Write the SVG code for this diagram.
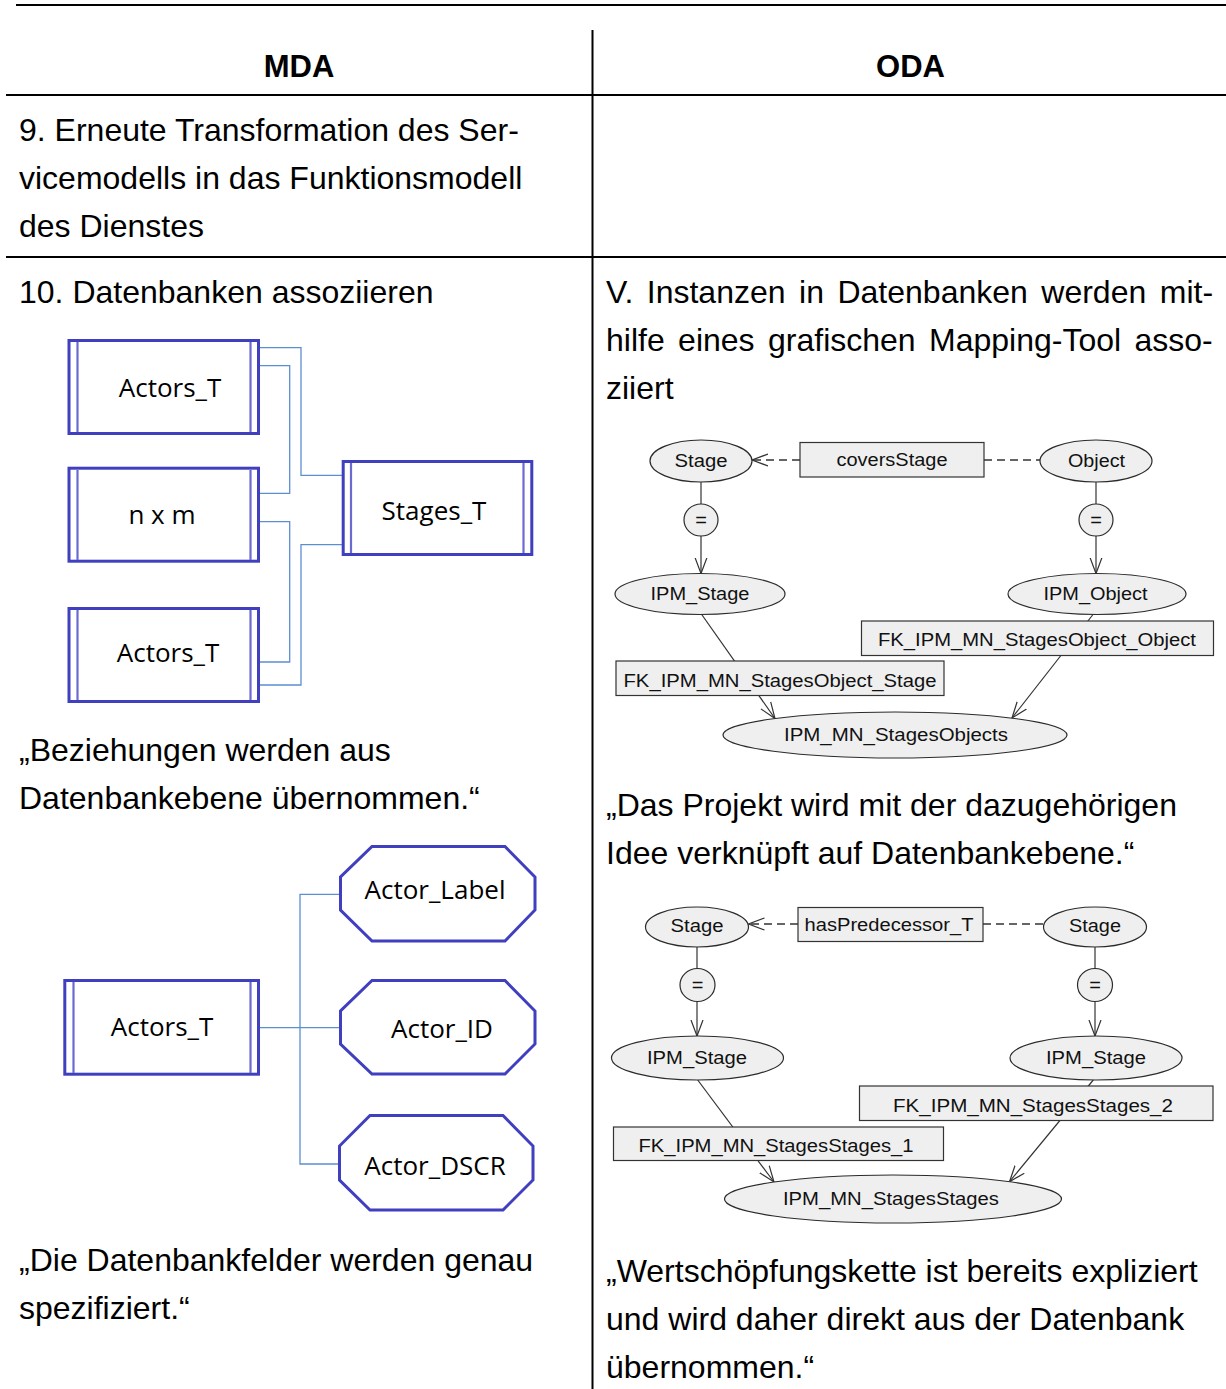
<svg xmlns="http://www.w3.org/2000/svg" width="1226" height="1389" viewBox="0 0 1226 1389">
<style>
.body{font-family:"Liberation Sans",Arial,sans-serif;font-size:32px;fill:#000}
.hdr{font-family:"Liberation Sans",Arial,sans-serif;font-size:31px;font-weight:bold;fill:#000;text-anchor:middle}
.rule{stroke:#000;stroke-width:2;fill:none}
.tbl{fill:#fff;stroke:#3f3fbf;stroke-width:3}
.inner{stroke:#6a6ad2;stroke-width:2.2}
.oct{fill:#fff;stroke:#3f3fbf;stroke-width:3}
.mlbl{font-family:"Open Sans","Noto Sans",sans-serif;font-size:26px;fill:#000;text-anchor:middle}
.mcon{stroke:#5b8fd0;stroke-width:1.3;fill:none}
.el{fill:#efefef;stroke:#2b2b2b;stroke-width:1.2}
.bx{fill:#efefef;stroke:#333;stroke-width:1.2}
.olbl{font-family:"Liberation Sans",Arial,sans-serif;font-size:17.5px;fill:#111;text-anchor:middle}
.eq{font-family:"Liberation Sans",Arial,sans-serif;font-size:20px;fill:#111;text-anchor:middle}
.ocon{stroke:#333;stroke-width:1.2;fill:none}
.dash{stroke:#333;stroke-width:1.3;fill:none;stroke-dasharray:8,5}
</style>
<defs>
<marker id="arr" markerUnits="userSpaceOnUse" markerWidth="20" markerHeight="16" refX="16" refY="7" orient="auto">
<path d="M0,1 L16,7 L0,13" fill="none" stroke="#333" stroke-width="1.2"/>
</marker>
</defs>
<rect width="1226" height="1389" fill="#fff"/>

<g id="table">
<line class="rule" x1="16" y1="5" x2="1226" y2="5"/>
<line class="rule" x1="6" y1="95" x2="1226" y2="95"/>
<line class="rule" x1="6" y1="257" x2="1226" y2="257"/>
<line class="rule" x1="592.5" y1="30" x2="592.5" y2="1389"/>
<text class="hdr" x="299" y="77">MDA</text>
<text class="hdr" x="910.5" y="77">ODA</text>
</g>

<g id="mda-text">
<text class="body" x="19" y="141">9. Erneute Transformation des Ser-</text>
<text class="body" x="19" y="189">vicemodells in das Funktionsmodell</text>
<text class="body" x="19" y="237">des Dienstes</text>
<text class="body" x="19" y="303">10. Datenbanken assoziieren</text>
<text class="body" x="19" y="761">„Beziehungen werden aus</text>
<text class="body" x="19" y="809">Datenbankebene übernommen.“</text>
<text class="body" x="19" y="1271">„Die Datenbankfelder werden genau</text>
<text class="body" x="19" y="1319">spezifiziert.“</text>
</g>

<g id="oda-text">
<text class="body" x="606" y="303" word-spacing="4.6">V. Instanzen in Datenbanken werden mit-</text>
<text class="body" x="606" y="351" word-spacing="4.5">hilfe eines grafischen Mapping-Tool asso-</text>
<text class="body" x="606" y="399">ziiert</text>
<text class="body" x="606" y="816">„Das Projekt wird mit der dazugehörigen</text>
<text class="body" x="606" y="864">Idee verknüpft auf Datenbankebene.“</text>
<text class="body" x="606" y="1282">„Wertschöpfungskette ist bereits expliziert</text>
<text class="body" x="606" y="1330">und wird daher direkt aus der Datenbank</text>
<text class="body" x="606" y="1378">übernommen.“</text>
</g>

<!-- MDA diagram 1 -->
<g id="mda1-connectors">
<polyline class="mcon" points="260,347.7 301,347.7 301,475.3 342,475.3"/>
<polyline class="mcon" points="260,365.7 289.7,365.7 289.7,493.3 260,493.3"/>
<polyline class="mcon" points="260,521.7 289.7,521.7 289.7,662 260,662"/>
<polyline class="mcon" points="342,544.7 301,544.7 301,685 260,685"/>
</g>
<g id="mda1-actors1">
<rect class="tbl" x="69" y="340.5" width="189.5" height="93"/>
<line class="inner" x1="77.5" y1="342" x2="77.5" y2="432"/>
<line class="inner" x1="250.5" y1="342" x2="250.5" y2="432"/>
<text class="mlbl" x="170" y="397">Actors_T</text>
</g>
<g id="mda1-nxm">
<rect class="tbl" x="69" y="468.2" width="189.5" height="93"/>
<line class="inner" x1="77.5" y1="470" x2="77.5" y2="560"/>
<line class="inner" x1="250.5" y1="470" x2="250.5" y2="560"/>
<text class="mlbl" x="162" y="524">n x m</text>
</g>
<g id="mda1-actors2">
<rect class="tbl" x="69" y="608.5" width="189.5" height="93"/>
<line class="inner" x1="77.5" y1="610" x2="77.5" y2="700"/>
<line class="inner" x1="250.5" y1="610" x2="250.5" y2="700"/>
<text class="mlbl" x="168" y="662">Actors_T</text>
</g>
<g id="mda1-stages">
<rect class="tbl" x="343.2" y="461.5" width="188.6" height="93"/>
<line class="inner" x1="351" y1="463" x2="351" y2="553"/>
<line class="inner" x1="523.5" y1="463" x2="523.5" y2="553"/>
<text class="mlbl" x="434" y="520">Stages_T</text>
</g>

<!-- MDA diagram 2 -->
<g id="mda2-connectors">
<line class="mcon" x1="260" y1="1027.7" x2="340" y2="1027.7"/>
<polyline class="mcon" points="340,894.3 300,894.3 300,1164 339,1164"/>
</g>
<g id="mda2-actors">
<rect class="tbl" x="64.8" y="980.5" width="193.7" height="93.7"/>
<line class="inner" x1="73.5" y1="982" x2="73.5" y2="1073"/>
<line class="inner" x1="250.5" y1="982" x2="250.5" y2="1073"/>
<text class="mlbl" x="162" y="1036">Actors_T</text>
</g>
<g id="mda2-label">
<polygon class="oct" points="372,846.5 505,846.5 535,877 535,910 505,941 372,941 340.5,910 340.5,877"/>
<text class="mlbl" x="435" y="899">Actor_Label</text>
</g>
<g id="mda2-id">
<polygon class="oct" points="372,980.5 505,980.5 535,1011 535,1044 505,1074 372,1074 340.5,1044 340.5,1011"/>
<text class="mlbl" x="442" y="1038">Actor_ID</text>
</g>
<g id="mda2-dscr">
<polygon class="oct" points="370,1115.5 503,1115.5 533,1146 533,1180 503,1210 370,1210 339.5,1180 339.5,1146"/>
<text class="mlbl" x="435" y="1175">Actor_DSCR</text>
</g>

<!-- ODA diagram 1 -->
<g id="oda1-connectors">
<line class="dash" x1="800" y1="460" x2="752" y2="460" marker-end="url(#arr)"/>
<line class="dash" x1="984" y1="460" x2="1040" y2="460"/>
<line class="ocon" x1="701" y1="482" x2="701" y2="504"/>
<line class="ocon" x1="701" y1="536" x2="701" y2="573.5" marker-end="url(#arr)"/>
<line class="ocon" x1="1096" y1="482" x2="1096" y2="504"/>
<line class="ocon" x1="1096" y1="536" x2="1096" y2="573.5" marker-end="url(#arr)"/>
<line class="ocon" x1="701.7" y1="614.5" x2="775" y2="718.5" marker-end="url(#arr)"/>
<line class="ocon" x1="1093" y1="614.5" x2="1012" y2="718" marker-end="url(#arr)"/>
</g>
<g id="oda1-stage">
<ellipse class="el" cx="701" cy="461" rx="51" ry="21"/>
<text class="olbl" x="701" y="467" textLength="53" lengthAdjust="spacingAndGlyphs">Stage</text>
</g>
<g id="oda1-covers">
<rect class="bx" x="800" y="442.5" width="184" height="34.5"/>
<text class="olbl" x="892" y="466" textLength="111" lengthAdjust="spacingAndGlyphs">coversStage</text>
</g>
<g id="oda1-object">
<ellipse class="el" cx="1096" cy="461" rx="56" ry="21"/>
<text class="olbl" x="1096.5" y="467" textLength="57" lengthAdjust="spacingAndGlyphs">Object</text>
</g>
<g id="oda1-eq1">
<ellipse class="el" cx="701" cy="520" rx="17" ry="16"/>
<text class="eq" x="701" y="527">=</text>
</g>
<g id="oda1-eq2">
<ellipse class="el" cx="1096" cy="520" rx="17" ry="16"/>
<text class="eq" x="1096" y="527">=</text>
</g>
<g id="oda1-ipmstage">
<ellipse class="el" cx="700" cy="594" rx="85" ry="20.5"/>
<text class="olbl" x="700" y="600" textLength="99" lengthAdjust="spacingAndGlyphs">IPM_Stage</text>
</g>
<g id="oda1-ipmobject">
<ellipse class="el" cx="1097" cy="594" rx="89" ry="20.5"/>
<text class="olbl" x="1095.5" y="600" textLength="104" lengthAdjust="spacingAndGlyphs">IPM_Object</text>
</g>
<g id="oda1-fkobject">
<rect class="bx" x="861.5" y="621" width="352" height="34.5"/>
<text class="olbl" x="1037" y="646" textLength="318" lengthAdjust="spacingAndGlyphs">FK_IPM_MN_StagesObject_Object</text>
</g>
<g id="oda1-fkstage">
<rect class="bx" x="616" y="661" width="328" height="34.5"/>
<text class="olbl" x="780" y="687" textLength="313" lengthAdjust="spacingAndGlyphs">FK_IPM_MN_StagesObject_Stage</text>
</g>
<g id="oda1-mn">
<ellipse class="el" cx="895" cy="735" rx="172" ry="23"/>
<text class="olbl" x="896" y="741" textLength="224" lengthAdjust="spacingAndGlyphs">IPM_MN_StagesObjects</text>
</g>

<!-- ODA diagram 2 -->
<g id="oda2-connectors">
<line class="dash" x1="798" y1="924" x2="748.5" y2="924" marker-end="url(#arr)"/>
<line class="dash" x1="983" y1="924" x2="1043.5" y2="924"/>
<line class="ocon" x1="697" y1="947" x2="697" y2="968.5"/>
<line class="ocon" x1="697" y1="1001.5" x2="697" y2="1036" marker-end="url(#arr)"/>
<line class="ocon" x1="1095" y1="947" x2="1095" y2="968.5"/>
<line class="ocon" x1="1095" y1="1001.5" x2="1095" y2="1036" marker-end="url(#arr)"/>
<line class="ocon" x1="697.7" y1="1080" x2="774" y2="1182" marker-end="url(#arr)"/>
<line class="ocon" x1="1093.3" y1="1080" x2="1009.5" y2="1181.7" marker-end="url(#arr)"/>
</g>
<g id="oda2-stage1">
<ellipse class="el" cx="697" cy="927" rx="51.5" ry="20"/>
<text class="olbl" x="697" y="932" textLength="53" lengthAdjust="spacingAndGlyphs">Stage</text>
</g>
<g id="oda2-haspred">
<rect class="bx" x="798" y="907.5" width="185" height="34"/>
<text class="olbl" x="889" y="931" textLength="169" lengthAdjust="spacingAndGlyphs">hasPredecessor_T</text>
</g>
<g id="oda2-stage2">
<ellipse class="el" cx="1095" cy="927" rx="51.5" ry="20"/>
<text class="olbl" x="1095" y="932" textLength="52" lengthAdjust="spacingAndGlyphs">Stage</text>
</g>
<g id="oda2-eq1">
<ellipse class="el" cx="697.5" cy="985" rx="17.5" ry="16.5"/>
<text class="eq" x="697.5" y="992">=</text>
</g>
<g id="oda2-eq2">
<ellipse class="el" cx="1095" cy="985" rx="17.5" ry="16.5"/>
<text class="eq" x="1095" y="992">=</text>
</g>
<g id="oda2-ipmstage1">
<ellipse class="el" cx="697.5" cy="1058" rx="86" ry="22"/>
<text class="olbl" x="697" y="1064" textLength="100" lengthAdjust="spacingAndGlyphs">IPM_Stage</text>
</g>
<g id="oda2-ipmstage2">
<ellipse class="el" cx="1096" cy="1058" rx="86" ry="22"/>
<text class="olbl" x="1096" y="1064" textLength="100" lengthAdjust="spacingAndGlyphs">IPM_Stage</text>
</g>
<g id="oda2-fk2">
<rect class="bx" x="859.5" y="1086" width="353.5" height="34.5"/>
<text class="olbl" x="1033" y="1112" textLength="280" lengthAdjust="spacingAndGlyphs">FK_IPM_MN_StagesStages_2</text>
</g>
<g id="oda2-fk1">
<rect class="bx" x="613.5" y="1127" width="330" height="33.5"/>
<text class="olbl" x="776" y="1152" textLength="275" lengthAdjust="spacingAndGlyphs">FK_IPM_MN_StagesStages_1</text>
</g>
<g id="oda2-mn">
<ellipse class="el" cx="893" cy="1199" rx="168.5" ry="24"/>
<text class="olbl" x="891" y="1205" textLength="216" lengthAdjust="spacingAndGlyphs">IPM_MN_StagesStages</text>
</g>
</svg>
